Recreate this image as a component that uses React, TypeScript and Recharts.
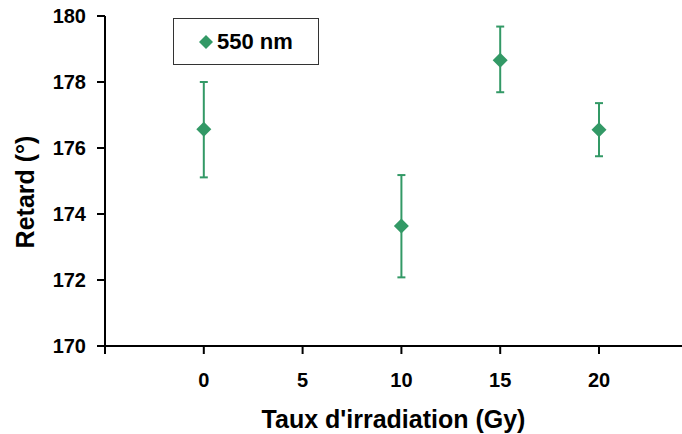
import React from "react";
import {
  ScatterChart,
  Scatter,
  XAxis,
  YAxis,
  ErrorBar,
  Legend,
} from "recharts";

const doses = [0, 10, 15, 20];
const retard = [176.57, 173.64, 178.66, 176.55];
const errLow = [1.46, 1.56, 0.97, 0.8];
const errHigh = [1.43, 1.54, 1.02, 0.81];
const xTicks = [-5, 0, 5, 10, 15, 20];
const yTicks = [170, 172, 174, 176, 178, 180];
const seriesName = "550 nm";

const GREEN = "#339966";
const FONT = "'Liberation Sans', Arial, sans-serif";

const data = doses.map((d, i) => ({
  x: d,
  y: retard[i],
  err: [errLow[i], errHigh[i]],
}));

const Diamond = (props: any) => {
  const { cx, cy } = props;
  const r = 7.5;
  return (
    <polygon
      points={`${cx},${cy - r} ${cx + r},${cy} ${cx},${cy + r} ${cx - r},${cy}`}
      fill={GREEN}
    />
  );
};

const LegendBox = () => (
  <div
    style={{
      border: "1.5px solid #333",
      width: 146,
      height: 47,
      display: "flex",
      alignItems: "center",
      boxSizing: "border-box",
      background: "#fff",
      fontFamily: FONT,
      fontWeight: "bold",
      fontSize: 22,
      color: "#000",
    }}
  >
    <svg width={16} height={16} style={{ marginLeft: 24, marginRight: 3 }}>
      <polygon points="8,1 15,8 8,15 1,8" fill={GREEN} />
    </svg>
    <span>{seriesName}</span>
  </div>
);

const YLabel = (props: any) => {
  const { viewBox } = props;
  const x = viewBox.x + 25;
  const y = viewBox.y + viewBox.height / 2 + 11;
  return (
    <text
      x={x}
      y={y}
      transform={`rotate(-90, ${x}, ${y})`}
      textAnchor="middle"
      dominantBaseline="central"
      fontFamily={FONT}
      fontWeight="bold"
      fontSize={25}
      fill="#000"
    >
      Retard (°)
    </text>
  );
};

export default function App() {
  return (
    <div style={{ position: "absolute", left: 0, top: 0, background: "#fff" }}>
      <ScatterChart
        width={682}
        height={434}
        margin={{ top: 16, right: 0, left: 0, bottom: 0 }}
      >
        <XAxis
          type="number"
          dataKey="x"
          domain={[-5, 24.2]}
          allowDataOverflow
          ticks={xTicks}
          tickFormatter={(v: number) => (v === -5 ? "" : String(v))}
          height={88}
          stroke="#000"
          strokeWidth={2}
          tickSize={8}
          tickMargin={19}
          tick={{ fill: "#000", fontFamily: FONT, fontWeight: "bold", fontSize: 20 }}
          label={{
            value: "Taux d'irradiation (Gy)",
            position: "insideBottom",
            offset: 6,
            fill: "#000",
            fontFamily: FONT,
            fontWeight: "bold",
            fontSize: 25,
          }}
        />
        <YAxis
          type="number"
          dataKey="y"
          domain={[170, 180]}
          ticks={yTicks}
          width={105}
          stroke="#000"
          strokeWidth={2}
          tickSize={8}
          tickMargin={11}
          tick={{ fill: "#000", fontFamily: FONT, fontWeight: "bold", fontSize: 20 }}
          label={<YLabel />}
        />
        <Legend
          layout="vertical"
          align="center"
          verticalAlign="middle"
          wrapperStyle={{ left: 173, top: 18, width: 146 }}
          content={() => <LegendBox />}
        />
        <Scatter
          name={seriesName}
          data={data}
          fill={GREEN}
          shape={<Diamond />}
          isAnimationActive={false}
        >
          <ErrorBar
            dataKey="err"
            direction="y"
            width={4}
            stroke={GREEN}
            strokeWidth={2}
          />
        </Scatter>
      </ScatterChart>
    </div>
  );
}
